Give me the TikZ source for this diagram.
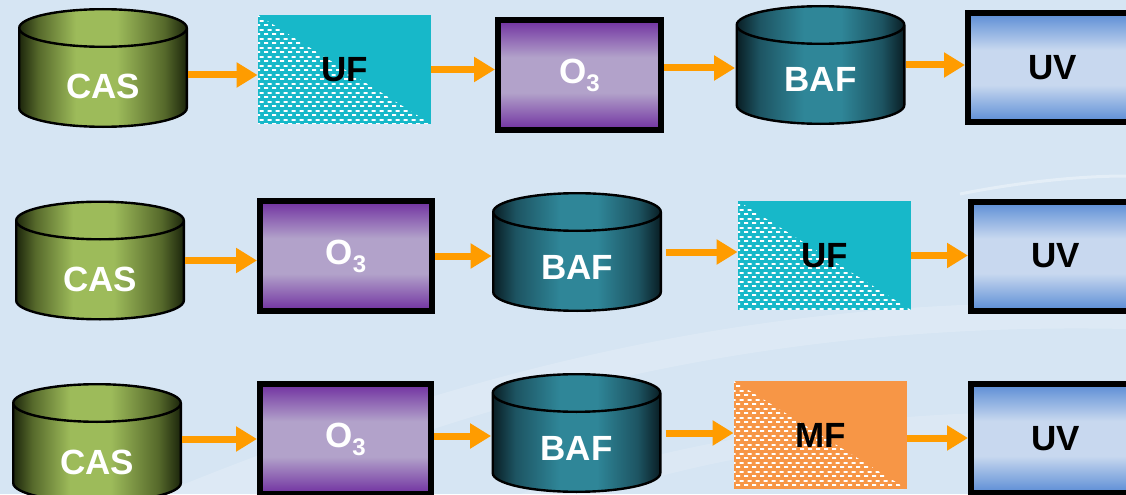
\documentclass[tikz,border=0pt]{standalone}
\usepackage{fontspec}
\setmainfont{Liberation Sans}
\usetikzlibrary{arrows.meta,patterns}

\definecolor{bgblue}{HTML}{D6E5F3}
\definecolor{casdark}{HTML}{19220A}
\definecolor{casmid}{HTML}{56692B}
\definecolor{caslight}{HTML}{9DBB5A}
\definecolor{bafdark}{HTML}{081B21}
\definecolor{bafmid}{HTML}{1D5462}
\definecolor{baflight}{HTML}{2F8698}
\definecolor{ozdark}{HTML}{7030A0}
\definecolor{ozlight}{HTML}{B2A2CA}
\definecolor{uvdark}{HTML}{5A8CD5}
\definecolor{uvlight}{HTML}{C8D8EF}
\definecolor{ufteal}{HTML}{17B8C9}
\definecolor{mforange}{HTML}{F79646}
\definecolor{flowor}{HTML}{FF9C00}

\pgfdeclarehorizontalshading{casfill}{100bp}{color(0bp)=(casdark); color(25bp)=(casdark); color(31bp)=(casmid); color(42bp)=(caslight); color(54bp)=(caslight); color(68bp)=(casmid); color(75bp)=(casdark); color(100bp)=(casdark)}
\pgfdeclarehorizontalshading{baffill}{100bp}{color(0bp)=(bafdark); color(25bp)=(bafdark); color(32bp)=(bafmid); color(45bp)=(baflight); color(56bp)=(baflight); color(68bp)=(bafmid); color(75bp)=(bafdark); color(100bp)=(bafdark)}
\pgfdeclareverticalshading{ozfill}{100bp}{color(0bp)=(ozdark); color(25bp)=(ozdark); color(42bp)=(ozlight); color(58bp)=(ozlight); color(75bp)=(ozdark); color(100bp)=(ozdark)}
\pgfdeclareverticalshading{uvfill}{100bp}{color(0bp)=(uvdark); color(25bp)=(uvdark); color(42bp)=(uvlight); color(58bp)=(uvlight); color(75bp)=(uvdark); color(100bp)=(uvdark)}

% white dashes of the membrane boxes
\pgfdeclarepatternformonly{membrane}{\pgfpointorigin}{\pgfqpoint{4pt}{4.3pt}}{\pgfqpoint{4pt}{4.3pt}}{
  \pgfpathrectangle{\pgfqpoint{0pt}{0pt}}{\pgfqpoint{2.3pt}{0.95pt}}
  \pgfpathrectangle{\pgfqpoint{2pt}{2.15pt}}{\pgfqpoint{2.3pt}{0.95pt}}
  \pgfusepath{fill}}

\begin{document}
\begin{tikzpicture}[x=0.5pt, y=0.5pt, >={Triangle[length=10.5pt,width=12pt]},
  flow/.style={->, draw=flowor, line width=3.5pt},
  every node/.style={font=\fontsize{17.5}{20}\selectfont\bfseries},
  tank/.style={rectangle, inner sep=0pt, minimum width=85pt, minimum height=60pt, text=white, text depth=0pt,
    path picture={
      \path[shading=#1] (path picture bounding box.south west) ++(0.6pt,50pt) -- ++(0pt,-40pt)
        arc[start angle=180, end angle=360, x radius=41.9pt, y radius=9.4pt] -- ++(0pt,40pt)
        arc[start angle=0, end angle=180, x radius=41.9pt, y radius=9.4pt] -- cycle;
      \draw[line width=1.2pt] (path picture bounding box.south west) ++(0.6pt,50pt) -- ++(0pt,-40pt)
        arc[start angle=180, end angle=360, x radius=41.9pt, y radius=9.4pt] -- ++(0pt,40pt)
        arc[start angle=0, end angle=180, x radius=41.9pt, y radius=9.4pt] -- cycle
        arc[start angle=180, end angle=360, x radius=41.9pt, y radius=9.4pt];}}]
\tikzstyle{cas}=[tank=casfill, text height=31pt]
\tikzstyle{baf}=[tank=baffill, text height=27pt]
\tikzstyle{ozone}=[rectangle, draw=black, line width=3pt, shading=ozfill, text=white, inner sep=0pt]
\tikzstyle{uv}=[rectangle, draw=black, line width=3pt, shading=uvfill, text=black, inner sep=0pt,
  minimum width=84.5pt, minimum height=54.5pt]
\tikzstyle{membrane}=[rectangle, draw=none, inner sep=0pt, minimum width=86.5pt, text=black,
  path picture={\fill[pattern=membrane, pattern color=white]
    (path picture bounding box.north west) -- (path picture bounding box.south east)
    -- (path picture bounding box.south west) -- cycle;}]

\useasboundingbox (0,0) rectangle (1126,494);
\fill[bgblue] (0,0) rectangle (1126,494);
% background swirl
\fill[white, opacity=0.18] (160,0) .. controls (500,140) and (800,200) .. (1126,190)
  -- (1126,165) .. controls (800,172) and (520,110) .. (260,0) -- cycle;
\fill[white, opacity=0.15] (520,0) .. controls (700,60) and (900,90) .. (1126,80)
  -- (1126,62) .. controls (900,70) and (720,40) .. (600,0) -- cycle;
\draw[white, opacity=0.35, line width=1.5pt] (960,300) .. controls (1020,312) and (1080,318) .. (1126,318);

% first line
\node[cas]   (cas1) at (103,426)   {CAS};
\node[membrane, fill=ufteal, minimum height=54.5pt] (uf1) at (344.5,424.5) {UF};
\node[ozone, minimum width=81.5pt, minimum height=55pt] (oz1) at (579.5,419) {O\raisebox{-4pt}{\fontsize{12}{12}\selectfont 3}};
\node[baf]   (baf1) at (820.5,429) {BAF};
\node[uv]    (uv1) at (1052.5,426.5) {UV};

% second line
\node[cas]   (cas2) at (100,233.5) {CAS};
\node[ozone, minimum width=86pt, minimum height=55pt] (oz2) at (346,238) {O\raisebox{-4pt}{\fontsize{12}{12}\selectfont 3}};
\node[baf]   (baf2) at (577,242)   {BAF};
\node[membrane, fill=ufteal, minimum height=54.5pt] (uf2) at (824.5,238.5) {UF};
\node[uv]    (uv2) at (1055.5,238) {UV};

% third line
\node[cas]   (cas3) at (97,51)     {CAS};
\node[ozone, minimum width=85.5pt, minimum height=55pt] (oz3) at (345.5,55) {O\raisebox{-4pt}{\fontsize{12}{12}\selectfont 3}};
\node[baf]   (baf3) at (576.5,61)  {BAF};
\node[membrane, fill=mforange, minimum height=54pt] (mf3) at (820.5,59) {MF};
\node[uv]    (uv3) at (1055.5,55.5) {UV};

\draw[flow] ([yshift=-3.5pt]cas1.east) -- ([yshift=-3.5pt]cas1.east -| uf1.west);
\draw[flow] (uf1.east) -- (uf1.east -| oz1.west);
\draw[flow] ([yshift=3.5pt]oz1.east) -- ([yshift=3.5pt]oz1.east -| baf1.west);
\draw[flow] (baf1.east) -- (baf1.east -| uv1.west);

\draw[flow] (cas2.east) -- (cas2.east -| oz2.west);
\draw[flow] (oz2.east) -- (oz2.east -| baf2.west);
\draw[flow, shorten <=2pt] (baf2.east) -- (baf2.east -| uf2.west);
\draw[flow] (uf2.east) -- (uf2.east -| uv2.west);

\draw[flow] ([yshift=2pt]cas3.east) -- ([yshift=2pt]cas3.east -| oz3.west);
\draw[flow] ([yshift=1.5pt]oz3.east) -- ([yshift=1.5pt]oz3.east -| baf3.west);
\draw[flow, shorten <=2pt] (baf3.east) -- (baf3.east -| mf3.west);
\draw[flow] ([yshift=-1.5pt]mf3.east) -- ([yshift=-1.5pt]mf3.east -| uv3.west);
\end{tikzpicture}
\end{document}
